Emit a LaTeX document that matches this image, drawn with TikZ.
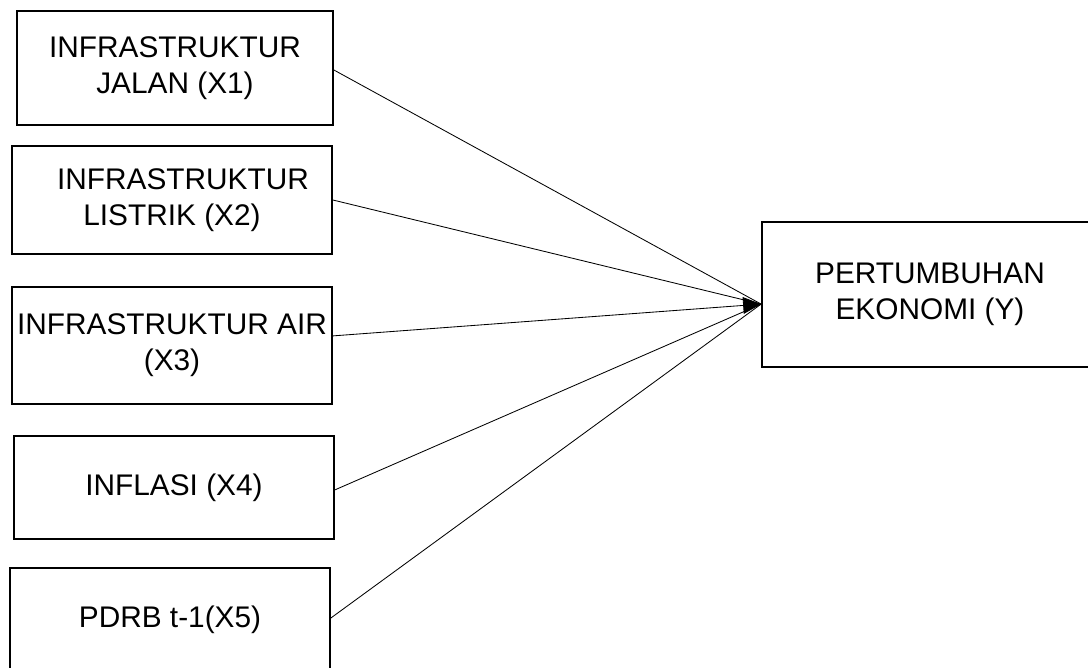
\documentclass[tikz,border=0pt]{standalone}
\usepackage{fontspec}
\setmainfont{Liberation Sans}
\usetikzlibrary{arrows.meta}
\tikzset{
  varbox/.style={rectangle, draw, line width=1.2pt, align=center, inner sep=0pt,
    font=\fontsize{21.2}{25.8}\selectfont},
  pathedge/.style={line width=0.6pt},
  headedge/.style={line width=0.6pt, -{Triangle[length=0.45cm,width=0.42cm]}}
}
\begin{document}
\begin{tikzpicture}[x=0.025cm, y=-0.025cm]
  \useasboundingbox (0,0) rectangle (1088,668);
  \clip (0,0) rectangle (1088,668);

  \node[varbox, minimum width=7.9cm, minimum height=2.85cm] (x1) at (175,68) {INFRASTRUKTUR\\JALAN (X1)};
  \node[varbox, minimum width=8cm, minimum height=2.7cm] (x2) at (172,200) {\hspace{0.55cm}INFRASTRUKTUR\\LISTRIK (X2)};
  \node[varbox, minimum width=8cm, minimum height=2.93cm] (x3) at (172,345.5) {INFRASTRUKTUR AIR\\(X3)};
  \node[varbox, minimum width=8cm, minimum height=2.58cm] (x4) at (174,487.5) {INFLASI (X4)};
  \node[varbox, minimum width=8cm, minimum height=2.6cm] (x5) at (170,620) {PDRB t-1(X5)};
  \node[varbox, minimum width=8.4cm, minimum height=3.63cm] (y) at (930,294.5) {PERTUMBUHAN\\EKONOMI (Y)};

  \coordinate (tip) at ([yshift=-0.24cm]y.west);
  \draw[pathedge] ([yshift=-0.05cm]x1.east) -- (tip);
  \draw[pathedge] (x2.east) -- (tip);
  \draw[pathedge] ([yshift=-0.06cm]x4.east) -- (tip);
  \draw[pathedge] ([yshift=0.05cm]x5.east) -- (tip);
  \draw[headedge] ([yshift=0.24cm]x3.east) -- (tip);
\end{tikzpicture}
\end{document}
